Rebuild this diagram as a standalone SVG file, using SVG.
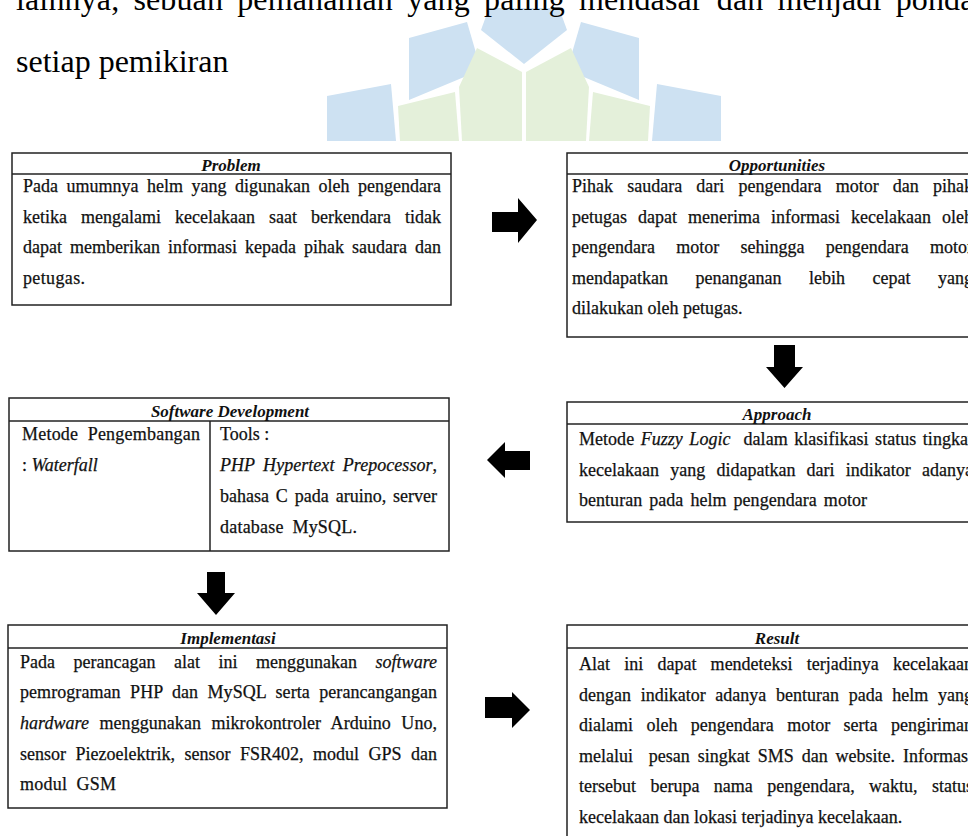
<svg xmlns="http://www.w3.org/2000/svg" width="968" height="836" viewBox="0 0 968 836">
<style>
.box{fill:#fff;stroke:#222;stroke-width:1.5}
.sep{stroke:#222;stroke-width:1.5}
.t{font-family:"Liberation Serif","Times New Roman",serif;font-size:18px;fill:#111;stroke:#111;stroke-width:0.25}
.h{font-family:"Liberation Serif","Times New Roman",serif;font-size:17px;font-style:italic;font-weight:bold;fill:#111;text-anchor:middle}
.i{font-style:italic}
.doc{font-family:"Liberation Serif","Times New Roman",serif;font-size:32px;fill:#000}
.lb{fill:#cde1f2}
.lg{fill:#e4f0da}
.arr{fill:#000}
</style>
<rect width="968" height="836" fill="#fff"/>
<g id="watermark">
<polygon class="lb" points="489,8 559,8 567,30 524,64 481,30"/>
<polygon class="lb" points="409,38 467,22 481,70 409,100"/>
<polygon class="lb" points="639,38 581,22 567,70 639,100"/>
<polygon class="lg" points="459,87 477,48 522,72 522,141 462,141"/>
<polygon class="lg" points="589,87 571,48 526,72 526,141 586,141"/>
<polygon class="lg" points="398,106 455,92 459,141 400,141"/>
<polygon class="lg" points="650,106 593,92 589,141 648,141"/>
<polygon class="lb" points="327,96 391,84 396,141 327,141"/>
<polygon class="lb" points="721,96 657,84 652,141 721,141"/>
</g>
<g id="doc-text">
<text class="doc" x="16" y="10" textLength="980" lengthAdjust="spacing" style="word-spacing:6px">lainnya, sebuah pemahaman yang paling mendasar dan menjadi pondasi</text>
<text class="doc" x="16" y="72">setiap pemikiran</text>
</g>
<g id="connectors">
<polygon class="arr" points="492,212 518,212 518,198 537,220 518,243 518,232 492,232"/>
<polygon class="arr" points="774,345 795,345 795,367 803,367 784.5,388 766,367 774,367"/>
<polygon class="arr" points="530,451 505,451 505,442 487,460 505,478 505,470 530,470"/>
<polygon class="arr" points="207,572 225,572 225,593 235,593 216,615 197,593 207,593"/>
<polygon class="arr" points="485,697 512,697 512,692 530,710 512,728 512,718 485,718"/>
</g>
<g id="problem">
<rect class="box" x="12" y="153" width="439" height="152"/>
<line class="sep" x1="12" y1="174" x2="451" y2="174"/>
<text class="h" x="231" y="171">Problem</text>
<text class="t" x="23" y="192" textLength="418" lengthAdjust="spacing" style="word-spacing:4px">Pada umumnya helm yang digunakan oleh pengendara</text>
<text class="t" x="23" y="223" textLength="418" lengthAdjust="spacing" style="word-spacing:9.5px">ketika mengalami kecelakaan saat berkendara tidak</text>
<text class="t" x="23" y="253" textLength="418" lengthAdjust="spacing" style="word-spacing:3.5px">dapat memberikan informasi kepada pihak saudara dan</text>
<text class="t" x="23" y="284" textLength="62" lengthAdjust="spacing">petugas.</text>
</g>
<g id="opportunities">
<rect class="box" x="567" y="153" width="440" height="184"/>
<line class="sep" x1="567" y1="174" x2="1007" y2="174"/>
<text class="h" x="777" y="171">Opportunities</text>
<text class="t" x="572" y="192" textLength="401" lengthAdjust="spacing" style="word-spacing:9.7px">Pihak saudara dari pengendara motor dan pihak</text>
<text class="t" x="572" y="223" textLength="401" lengthAdjust="spacing" style="word-spacing:6.5px">petugas dapat menerima informasi kecelakaan oleh</text>
<text class="t" x="572" y="253" textLength="401" lengthAdjust="spacing" style="word-spacing:16.8px">pengendara motor sehingga pengendara motor</text>
<text class="t" x="572" y="284" textLength="401" lengthAdjust="spacing" style="word-spacing:23px">mendapatkan penanganan lebih cepat yang</text>
<text class="t" x="572" y="314">dilakukan oleh petugas.</text>
</g>
<g id="approach">
<rect class="box" x="567" y="402" width="440" height="120"/>
<line class="sep" x1="567" y1="424" x2="1007" y2="424"/>
<text class="h" x="777" y="420">Approach</text>
<text class="t" x="579" y="445" textLength="394" lengthAdjust="spacing" style="word-spacing:2px" xml:space="preserve">Metode <tspan class="i">Fuzzy Logic</tspan>  dalam klasifikasi status tingkat</text>
<text class="t" x="579" y="476" textLength="394" lengthAdjust="spacing" style="word-spacing:6.7px">kecelakaan yang didapatkan dari indikator adanya</text>
<text class="t" x="579" y="506" textLength="288" lengthAdjust="spacing" style="word-spacing:2.5px">benturan pada helm pengendara motor</text>
</g>
<g id="software-development">
<rect class="box" x="9" y="398" width="440" height="153"/>
<line class="sep" x1="9" y1="421" x2="449" y2="421"/>
<line class="sep" x1="210" y1="421" x2="210" y2="551"/>
<text class="h" x="230" y="417">Software Development</text>
<text class="t" x="22" y="440" textLength="178" lengthAdjust="spacing" xml:space="preserve">Metode  Pengembangan</text>
<text class="t" x="22" y="471">: <tspan class="i">Waterfall</tspan></text>
<text class="t" x="220" y="440">Tools :</text>
<text class="t" x="220" y="471" textLength="217" lengthAdjust="spacing" style="word-spacing:3.8px"><tspan class="i">PHP Hypertext Prepocessor</tspan>,</text>
<text class="t" x="220" y="502" textLength="217" lengthAdjust="spacing" style="word-spacing:2.4px">bahasa C pada aruino, server</text>
<text class="t" x="220" y="533" textLength="137" lengthAdjust="spacing" style="word-spacing:4px">database MySQL.</text>
</g>
<g id="implementasi">
<rect class="box" x="8" y="625" width="439" height="183"/>
<line class="sep" x1="8" y1="648" x2="447" y2="648"/>
<text class="h" x="228" y="644">Implementasi</text>
<text class="t" x="20" y="668" textLength="417" lengthAdjust="spacing" style="word-spacing:13.9px">Pada perancagan alat ini menggunakan <tspan class="i">software</tspan></text>
<text class="t" x="20" y="698" textLength="417" lengthAdjust="spacing" style="word-spacing:4.8px">pemrograman PHP dan MySQL serta perancangangan</text>
<text class="t" x="20" y="729" textLength="417" lengthAdjust="spacing" style="word-spacing:5.9px"><tspan class="i">hardware</tspan> menggunakan mikrokontroler Arduino Uno,</text>
<text class="t" x="20" y="760" textLength="417" lengthAdjust="spacing" style="word-spacing:5px">sensor Piezoelektrik, sensor FSR402, modul GPS dan</text>
<text class="t" x="20" y="790" textLength="96" lengthAdjust="spacing" xml:space="preserve">modul  GSM</text>
</g>
<g id="result">
<rect class="box" x="567" y="625" width="440" height="230"/>
<line class="sep" x1="567" y1="648" x2="1007" y2="648"/>
<text class="h" x="777" y="644">Result</text>
<text class="t" x="579" y="670" textLength="394" lengthAdjust="spacing" style="word-spacing:9.7px">Alat ini dapat mendeteksi terjadinya kecelakaan</text>
<text class="t" x="579" y="701" textLength="394" lengthAdjust="spacing" style="word-spacing:5.2px">dengan indikator adanya benturan pada helm yang</text>
<text class="t" x="579" y="731" textLength="394" lengthAdjust="spacing" style="word-spacing:8.9px">dialami oleh pengendara motor serta pengiriman</text>
<text class="t" x="579" y="762" textLength="394" lengthAdjust="spacing" style="word-spacing:3.4px" xml:space="preserve">melalui  pesan singkat SMS dan website. Informasi</text>
<text class="t" x="579" y="792" textLength="394" lengthAdjust="spacing" style="word-spacing:9.9px">tersebut berupa nama pengendara, waktu, status</text>
<text class="t" x="579" y="823">kecelakaan dan lokasi terjadinya kecelakaan.</text>
</g>
</svg>
